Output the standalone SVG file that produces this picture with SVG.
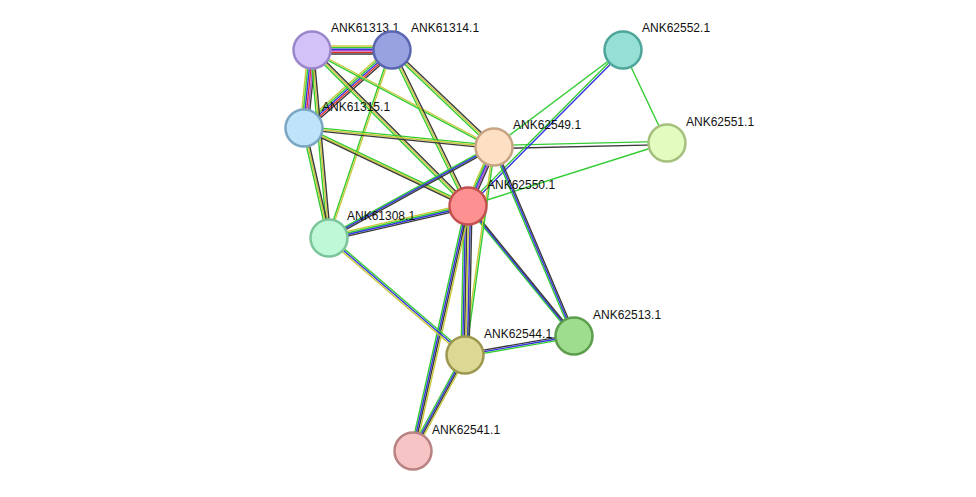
<svg xmlns="http://www.w3.org/2000/svg" width="976" height="497" viewBox="0 0 976 497">
<style>
.g{stroke:#33cc33}.y{stroke:#c8c83a}.k{stroke:#3a3a3a}.b{stroke:#3535e0}.r{stroke:#e03030}.p{stroke:#b050d0}
#edges line{stroke-width:1.4;fill:none}
.n{stroke-width:2.5}
text{font-family:"Liberation Sans",Arial,sans-serif;font-size:12px;fill:#111}
</style>
<rect width="976" height="497" fill="#fff"/>
<g id="edges">
<!-- 61313-61314 horiz -->
<g transform="translate(0,-4)"><line class="y" x1="312" y1="50" x2="392" y2="50"/></g>
<g transform="translate(0,-2.4)"><line class="g" x1="312" y1="50" x2="392" y2="50"/></g>
<g transform="translate(0,-0.8)"><line class="b" x1="312" y1="50" x2="392" y2="50"/></g>
<g transform="translate(0,0.8)"><line class="p" x1="312" y1="50" x2="392" y2="50"/></g>
<g transform="translate(0,2.4)"><line class="r" x1="312" y1="50" x2="392" y2="50"/></g>
<g transform="translate(0,4)"><line class="k" x1="312" y1="50" x2="392" y2="50"/></g>
<!-- 61313-61315 vert -->
<g transform="translate(-4,0)"><line class="y" x1="312" y1="50" x2="304" y2="128"/></g>
<g transform="translate(-2.4,0)"><line class="g" x1="312" y1="50" x2="304" y2="128"/></g>
<g transform="translate(-0.8,0)"><line class="b" x1="312" y1="50" x2="304" y2="128"/></g>
<g transform="translate(0.8,0)"><line class="r" x1="312" y1="50" x2="304" y2="128"/></g>
<g transform="translate(2.4,0)"><line class="p" x1="312" y1="50" x2="304" y2="128"/></g>
<g transform="translate(4,0)"><line class="k" x1="312" y1="50" x2="304" y2="128"/></g>
<!-- 61314-61315 -->
<g transform="translate(-2.4,-2.4)"><line class="y" x1="392" y1="50" x2="304" y2="128"/></g>
<g transform="translate(-1.2,-1.2)"><line class="g" x1="392" y1="50" x2="304" y2="128"/></g>
<g><line class="b" x1="392" y1="50" x2="304" y2="128"/></g>
<g transform="translate(1.2,1.2)"><line class="r" x1="392" y1="50" x2="304" y2="128"/></g>
<g transform="translate(2.4,2.4)"><line class="k" x1="392" y1="50" x2="304" y2="128"/></g>
<!-- triples g y k -->
<g transform="translate(-1.6,0)"><line class="g" x1="312" y1="50" x2="329" y2="238"/><line class="g" x1="392" y1="50" x2="329" y2="238"/><line class="g" x1="304" y1="128" x2="329" y2="238"/></g>
<g><line class="y" x1="312" y1="50" x2="329" y2="238"/><line class="y" x1="392" y1="50" x2="329" y2="238"/><line class="y" x1="304" y1="128" x2="329" y2="238"/></g>
<g transform="translate(1.6,0)"><line class="k" x1="312" y1="50" x2="329" y2="238"/><line class="k" x1="304" y1="128" x2="329" y2="238"/></g>
<g transform="translate(-1.2,1.2)"><line class="g" x1="312" y1="50" x2="494" y2="147"/><line class="g" x1="312" y1="50" x2="468" y2="206"/><line class="g" x1="392" y1="50" x2="494" y2="147"/><line class="g" x1="392" y1="50" x2="468" y2="206"/></g>
<g><line class="y" x1="312" y1="50" x2="494" y2="147"/><line class="y" x1="312" y1="50" x2="468" y2="206"/><line class="y" x1="392" y1="50" x2="494" y2="147"/><line class="y" x1="392" y1="50" x2="468" y2="206"/></g>
<g transform="translate(1.2,-1.2)"><line class="k" x1="312" y1="50" x2="468" y2="206"/><line class="k" x1="392" y1="50" x2="494" y2="147"/><line class="k" x1="392" y1="50" x2="468" y2="206"/></g>
<g transform="translate(0,-1.6)"><line class="g" x1="304" y1="128" x2="494" y2="147"/><line class="g" x1="304" y1="128" x2="468" y2="206"/><line class="g" x1="667" y1="143" x2="494" y2="147"/></g>
<g><line class="y" x1="304" y1="128" x2="494" y2="147"/><line class="y" x1="304" y1="128" x2="468" y2="206"/></g>
<g transform="translate(0,1.6)"><line class="k" x1="304" y1="128" x2="494" y2="147"/><line class="k" x1="304" y1="128" x2="468" y2="206"/><line class="k" x1="667" y1="143" x2="494" y2="147"/></g>
<line class="g" x1="623" y1="50" x2="494" y2="147"/>
<line class="g" x1="623" y1="50" x2="667" y2="143"/>
<line class="g" x1="667" y1="143" x2="468" y2="206"/>
<g transform="translate(-0.8,-0.8)"><line class="g" x1="623" y1="50" x2="468" y2="206"/></g>
<g transform="translate(0.8,0.8)"><line class="b" x1="623" y1="50" x2="468" y2="206"/></g>
<!-- 62549-62550 -->
<g transform="translate(-3,0)"><line class="y" x1="494" y1="147" x2="468" y2="206"/></g>
<g transform="translate(-1.5,0)"><line class="g" x1="494" y1="147" x2="468" y2="206"/></g>
<g><line class="b" x1="494" y1="147" x2="468" y2="206"/></g>
<g transform="translate(1.5,0)"><line class="p" x1="494" y1="147" x2="468" y2="206"/></g>
<g transform="translate(3,0)"><line class="k" x1="494" y1="147" x2="468" y2="206"/></g>
<!-- 62549-61308 / 62550-61308 -->
<g transform="translate(0,-2.4)"><line class="g" x1="494" y1="147" x2="329" y2="238"/><line class="y" x1="468" y1="206" x2="329" y2="238"/></g>
<g transform="translate(0,-0.8)"><line class="b" x1="494" y1="147" x2="329" y2="238"/><line class="g" x1="468" y1="206" x2="329" y2="238"/></g>
<g transform="translate(0,0.8)"><line class="k" x1="494" y1="147" x2="329" y2="238"/><line class="b" x1="468" y1="206" x2="329" y2="238"/></g>
<g transform="translate(0,2.4)"><line class="k" x1="468" y1="206" x2="329" y2="238"/></g>
<!-- to 62513 -->
<g transform="translate(-1.6,0)"><line class="g" x1="494" y1="147" x2="574" y2="336"/><line class="g" x1="468" y1="206" x2="574" y2="336"/></g>
<g><line class="b" x1="494" y1="147" x2="574" y2="336"/><line class="b" x1="468" y1="206" x2="574" y2="336"/></g>
<g transform="translate(1.6,0)"><line class="k" x1="494" y1="147" x2="574" y2="336"/><line class="k" x1="468" y1="206" x2="574" y2="336"/></g>
<g transform="translate(0,-1.6)"><line class="k" x1="465" y1="355" x2="574" y2="336"/></g>
<g><line class="b" x1="465" y1="355" x2="574" y2="336"/></g>
<g transform="translate(0,1.6)"><line class="g" x1="465" y1="355" x2="574" y2="336"/></g>
<!-- 62549-62544 -->
<g transform="translate(-0.8,0)"><line class="y" x1="494" y1="147" x2="465" y2="355"/></g>
<g transform="translate(0.8,0)"><line class="g" x1="494" y1="147" x2="465" y2="355"/></g>
<!-- 62550-62544 -->
<g transform="translate(-4,0)"><line class="g" x1="468" y1="206" x2="465" y2="355"/></g>
<g transform="translate(-2.4,0)"><line class="b" x1="468" y1="206" x2="465" y2="355"/></g>
<g transform="translate(-0.8,0)"><line class="k" x1="468" y1="206" x2="465" y2="355"/></g>
<g transform="translate(0.8,0)"><line class="y" x1="468" y1="206" x2="465" y2="355"/></g>
<g transform="translate(2.4,0)"><line class="b" x1="468" y1="206" x2="465" y2="355"/></g>
<g transform="translate(4,0)"><line class="k" x1="468" y1="206" x2="465" y2="355"/></g>
<!-- 62550-62541 -->
<g transform="translate(-2.4,0)"><line class="g" x1="468" y1="206" x2="413" y2="451"/></g>
<g transform="translate(-0.8,0)"><line class="b" x1="468" y1="206" x2="413" y2="451"/></g>
<g transform="translate(0.8,0)"><line class="k" x1="468" y1="206" x2="413" y2="451"/></g>
<g transform="translate(2.4,0)"><line class="y" x1="468" y1="206" x2="413" y2="451"/></g>
<!-- 61308-62544 -->
<g transform="translate(1.2,-1.2)"><line class="g" x1="329" y1="238" x2="465" y2="355"/></g>
<g><line class="b" x1="329" y1="238" x2="465" y2="355"/></g>
<g transform="translate(-1.2,1.2)"><line class="y" x1="329" y1="238" x2="465" y2="355"/></g>
<!-- 62544-62541 -->
<g transform="translate(-2.4,0)"><line class="g" x1="465" y1="355" x2="413" y2="451"/></g>
<g transform="translate(-0.8,0)"><line class="b" x1="465" y1="355" x2="413" y2="451"/></g>
<g transform="translate(0.8,0)"><line class="k" x1="465" y1="355" x2="413" y2="451"/></g>
<g transform="translate(2.4,0)"><line class="y" x1="465" y1="355" x2="413" y2="451"/></g>
</g>
<g id="n61313"><circle class="n" cx="312" cy="50" r="18.5" fill="#d3c2f8" stroke="#9a86cc"/><text x="331" y="32">ANK61313.1</text></g>
<g id="n61314"><circle class="n" cx="392" cy="50" r="18.5" fill="#98a2e0" stroke="#5a66b0"/><text x="411" y="32">ANK61314.1</text></g>
<g id="n62552"><circle class="n" cx="623" cy="50" r="18.5" fill="#95dfd5" stroke="#4ea59a"/><text x="642" y="32">ANK62552.1</text></g>
<g id="n61315"><circle class="n" cx="304" cy="128" r="18.5" fill="#bfe4fa" stroke="#7aa6c4"/><text x="322" y="111">ANK61315.1</text></g>
<g id="n62549"><circle class="n" cx="494" cy="147" r="18.5" fill="#fde0c3" stroke="#c8a484"/><text x="513" y="129">ANK62549.1</text></g>
<g id="n62551"><circle class="n" cx="667" cy="143" r="18.5" fill="#e2fcc0" stroke="#a4c07c"/><text x="686" y="126">ANK62551.1</text></g>
<g id="n62550"><circle class="n" cx="468" cy="206" r="18.5" fill="#fd9090" stroke="#c45050"/><text x="487" y="189">ANK62550.1</text></g>
<g id="n61308"><circle class="n" cx="329" cy="238" r="18.5" fill="#bff8d6" stroke="#7cc49a"/><text x="347" y="220">ANK61308.1</text></g>
<g id="n62513"><circle class="n" cx="574" cy="336" r="18.5" fill="#9edc8e" stroke="#5c9e4e"/><text x="593" y="319">ANK62513.1</text></g>
<g id="n62544"><circle class="n" cx="465" cy="355" r="18.5" fill="#dcd994" stroke="#9c9850"/><text x="484" y="338">ANK62544.1</text></g>
<g id="n62541"><circle class="n" cx="413" cy="451" r="18.5" fill="#f6c4c4" stroke="#b88282"/><text x="432" y="434">ANK62541.1</text></g>
</svg>
